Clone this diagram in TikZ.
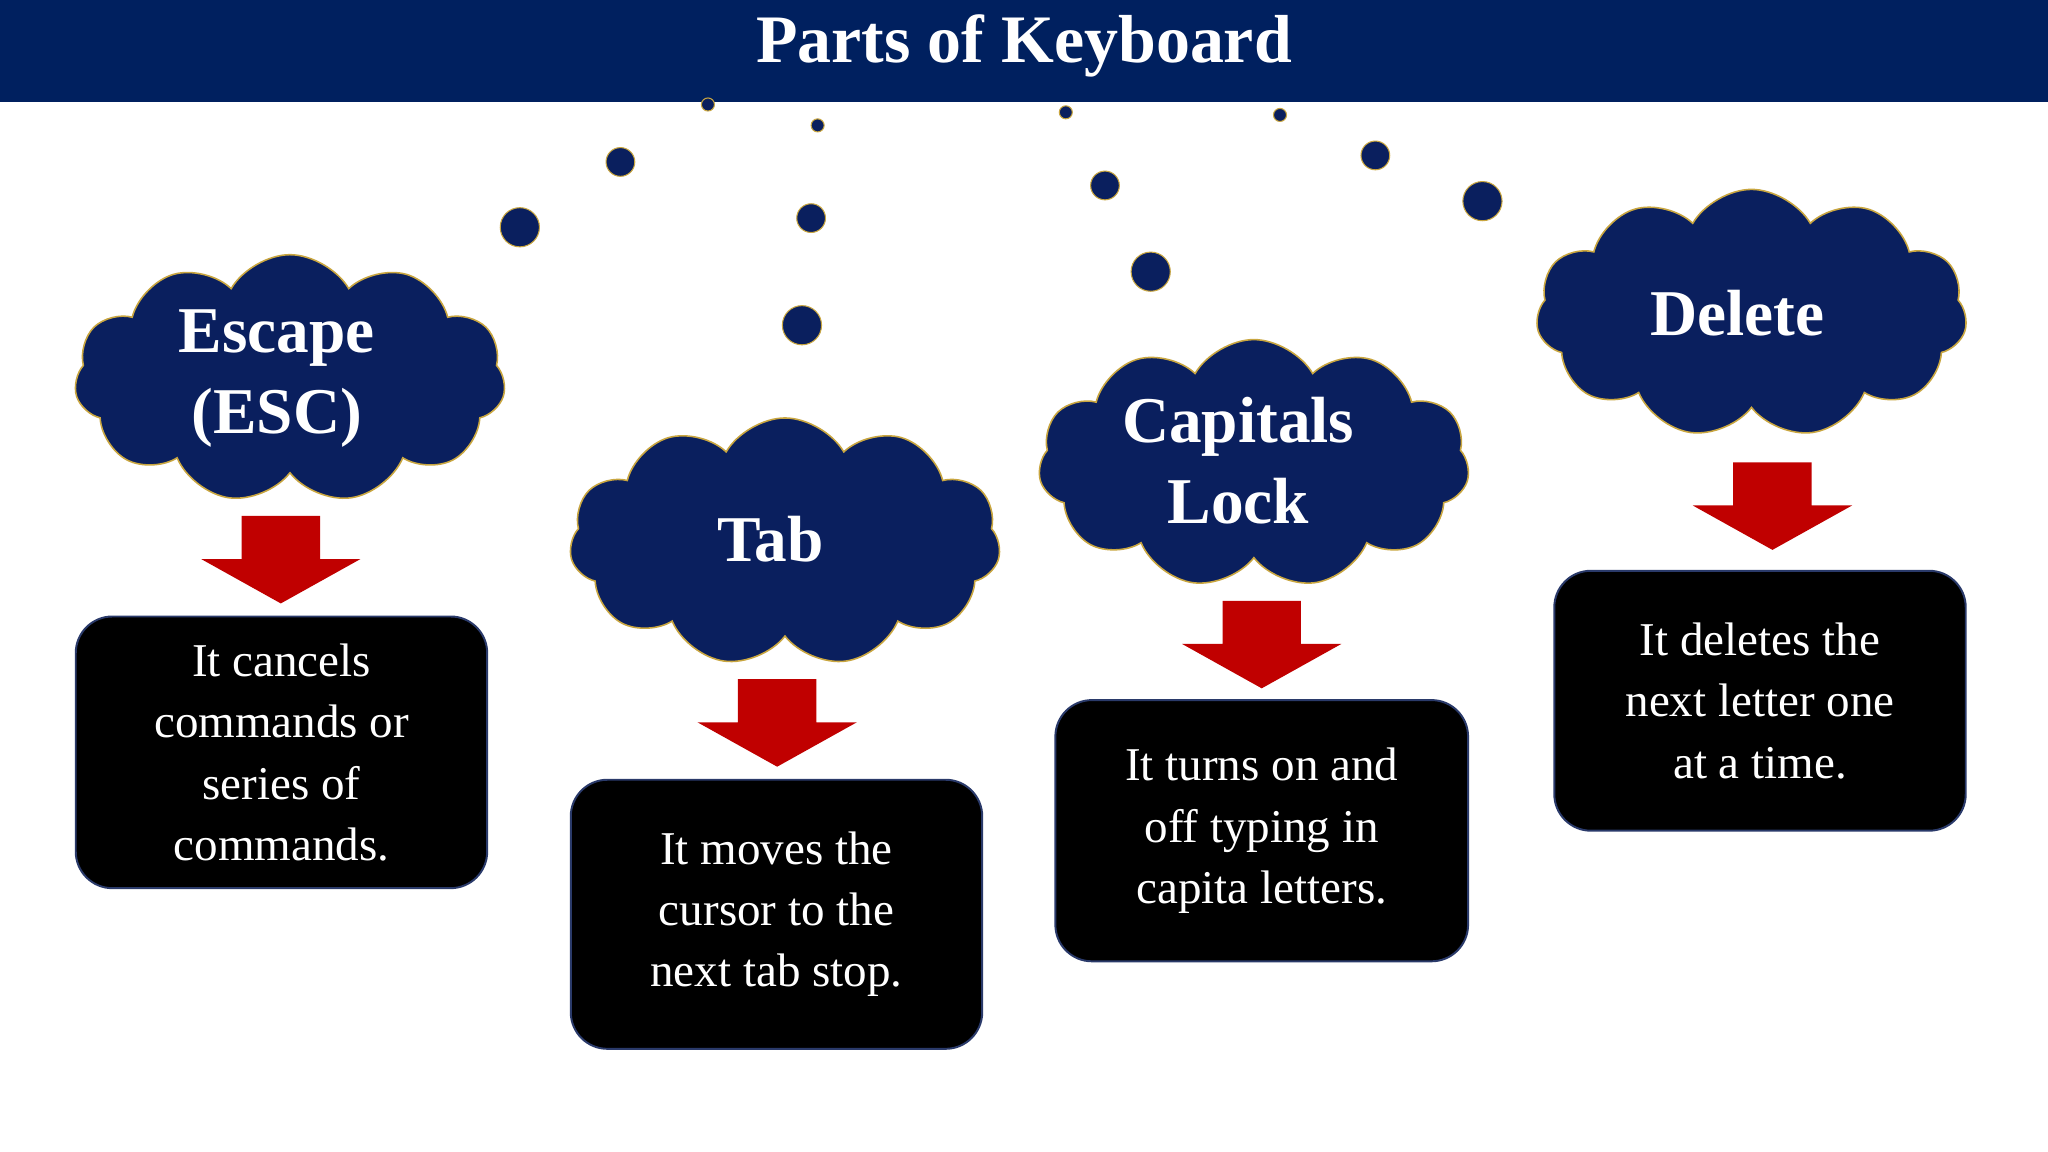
\documentclass[tikz,border=0pt]{standalone}
\usepackage{fontspec}
\setmainfont{Liberation Serif}
\usetikzlibrary{shapes.symbols}
\definecolor{navy}{HTML}{0A1F5E}
\definecolor{banner}{HTML}{00205F}
\definecolor{gold}{HTML}{C9A640}
\definecolor{ared}{HTML}{C00000}
\definecolor{bedge}{HTML}{2A3A6A}
\tikzset{
 cloudbox/.style={cloud, cloud puffs=11, cloud puff arc=120, aspect=1.7, fill=navy, draw=gold, line width=1.2pt, inner sep=0pt, minimum width=330, minimum height=190},
 cloudtext/.style={text=white, font=\bfseries\fontsize{50}{62}\selectfont, align=center},
 descbox/.style={rounded corners=28, fill=black, draw=bedge, line width=1.5pt, text=white, align=center, font=\fontsize{36}{47}\selectfont, inner sep=0pt},
 dot/.style={circle, fill=navy, draw=gold, line width=0.8pt, inner sep=0pt}
}
\newcommand{\redarrow}[3]{% name, x, ytop
 \fill[ared] (#2-30,#3) -- (#2+30,#3) -- (#2+30,#3+33) -- (#2+61,#3+33) -- (#2,#3+67) -- (#2-61,#3+33) -- (#2-30,#3+33) -- cycle;
 \coordinate (#1) at (#2,#3);}
\begin{document}
\begin{tikzpicture}[x=1pt,y=-1pt]
\useasboundingbox (0,0) rectangle (1568,882);
\fill[white] (0,0) rectangle (1568,882);
\fill[banner] (0,0) rectangle (1568,78);
\node[text=white, font=\bfseries\fontsize{52}{60}\selectfont] (title) at (784,35) {Parts of Keyboard};
% dots
\foreach \n/\x/\y/\d in {a1/398/174/30,a2/475/124/22,a3/542/80/10,b1/614/249/30,b2/621/167/22,b3/626/96/10,c1/881/208/30,c2/846/142/22,c3/816/86/10,d1/1135/154/30,d2/1053/119/22,d3/980/88/10}
 \node[dot, minimum size=\d] (\n) at (\x,\y) {};
% clouds
\node[cloudbox] (c1) at (222,290) {};
\node[cloudtext] (t1) at (212,290) {Escape\\(ESC)};
\node[cloudbox] (c2) at (601,415) {};
\node[cloudtext] (t2) at (590,413) {Tab};
\node[cloudbox] (c3) at (960,355) {};
\node[cloudtext] (t3) at (948,353) {Capitals\\Lock};
\node[cloudbox] (c4) at (1341,240) {};
\node[cloudtext] (t4) at (1330,240) {Delete};
% arrows
\redarrow{ar1}{215}{395}
\redarrow{ar2}{595}{520}
\redarrow{ar3}{966}{460}
\redarrow{ar4}{1357}{354}
% boxes
\node[descbox, minimum width=315, minimum height=208] (b1) at (215.5,576) {It cancels\\commands or\\series of\\commands.};
\node[descbox, minimum width=315, minimum height=206] (b2) at (594.5,700) {It moves the\\cursor to the\\next tab stop.};
\node[descbox, minimum width=316, minimum height=200] (b3) at (966,636) {It turns on and\\off typing in\\capita letters.};
\node[descbox, minimum width=315, minimum height=199] (b4) at (1347.5,536.5) {It deletes the\\next letter one\\at a time.};
\end{tikzpicture}
\end{document}
